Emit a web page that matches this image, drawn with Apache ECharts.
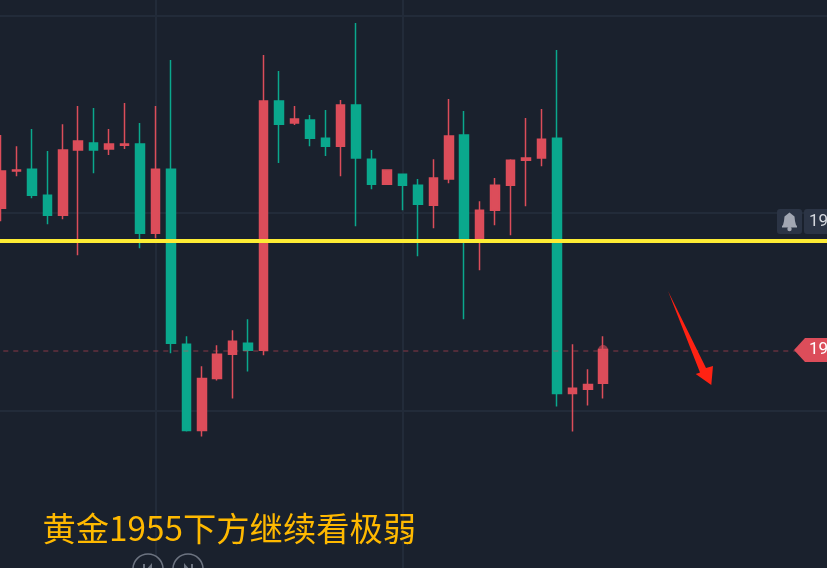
<!DOCTYPE html>
<html>
<head>
<meta charset="utf-8">
<style>
  html, body { margin: 0; padding: 0; background: #1a212d; }
  #chart { width: 827px; height: 568px; overflow: hidden; }
</style>
<script src="https://cdn.jsdelivr.net/npm/echarts@6/dist/echarts.min.js"></script>
</head>
<body>
<div id="chart"></div>
<script>
const slotCount = 54 // the axis keeps empty bars to the right of the last candle

const openValues = [1960.50, 1964.26, 1964.46, 1961.82, 1959.79, 1966.39, 1967.10, 1966.49, 1966.89, 1967.00,
  1957.97, 1964.46, 1946.71, 1937.99, 1943.26, 1945.70, 1946.81, 1946.10, 1971.36, 1969.13,
  1969.43, 1967.60, 1966.79, 1970.95, 1965.47, 1962.94, 1963.95, 1962.84, 1960.81, 1963.45,
  1967.91, 1957.16, 1960.30, 1962.84, 1965.37, 1965.58, 1967.60, 1941.74, 1942.15, 1942.76]
const closeValues = [1964.26, 1964.36, 1961.82, 1959.79, 1966.39, 1967.30, 1966.39, 1967.00, 1967.00, 1957.97,
  1964.46, 1946.81, 1937.99, 1943.26, 1945.70, 1947.02, 1946.10, 1971.36, 1969.02, 1969.53,
  1967.60, 1966.79, 1970.95, 1965.58, 1962.94, 1964.36, 1962.84, 1960.91, 1963.55, 1967.81,
  1957.16, 1960.30, 1962.84, 1965.37, 1965.58, 1967.50, 1941.74, 1942.25, 1942.65, 1946.20]
const lowValues = [1959.19, 1963.75, 1961.52, 1958.88, 1959.39, 1955.74, 1964.05, 1965.88, 1966.49, 1956.45,
  1957.46, 1945.80, 1937.89, 1937.38, 1943.06, 1941.23, 1943.97, 1945.60, 1965.07, 1968.92,
  1966.79, 1965.78, 1963.75, 1958.68, 1962.43, 1962.94, 1960.30, 1955.64, 1958.48, 1963.04,
  1949.25, 1954.22, 1958.78, 1957.77, 1960.71, 1964.76, 1940.42, 1937.89, 1940.52, 1941.23]
const highValues = [1967.91, 1966.79, 1968.52, 1966.29, 1969.02, 1970.85, 1970.65, 1968.52, 1971.15, 1969.13,
  1970.85, 1975.51, 1947.52, 1944.48, 1946.61, 1948.13, 1949.25, 1976.02, 1974.40, 1970.85,
  1969.94, 1970.44, 1971.46, 1979.27, 1966.39, 1964.36, 1963.95, 1963.45, 1965.47, 1971.56,
  1970.34, 1961.21, 1963.55, 1965.47, 1969.63, 1970.55, 1976.53, 1946.71, 1944.18, 1947.52]
const keyLevel = 1957.16
const lastPrice = 1946.10
const verticalLines = [10, 26]
const titleText = '黄金1955下方继续看极弱'
const tickLabel = '19'

const bgColor = '#1a212d'
const gridColor = '#222b39'
const upColor = '#dc4d5a'
const downColor = '#0aa88d'

const categories = []
for (let i = 0; i < slotCount; i++) {
  categories.push(String(i))
}
const candleData = openValues.map(function (open, i) {
  return [open, closeValues[i], lowValues[i], highValues[i]]
})

const chart = echarts.init(document.getElementById('chart'), null, { renderer: 'canvas' })

chart.setOption({
  backgroundColor: bgColor,
  animation: false,
  // grid runs past the window on purpose, the screenshot is a crop of a bigger chart
  grid: { left: -6.7, top: -4, width: 833.8, height: 612, outerBoundsMode: 'none' },
  xAxis: {
    type: 'category',
    data: categories,
    axisLine: { show: false },
    axisTick: { show: false },
    axisLabel: { show: false },
    splitLine: { show: false }
  },
  yAxis: {
    type: 'value',
    min: 1920,
    max: 1982,
    interval: 20,
    axisLine: { show: false },
    axisTick: { show: false },
    axisLabel: { show: false },
    splitLine: { show: true, lineStyle: { color: gridColor, width: 2 } }
  },
  series: [
    {
      // vertical grid first so the candles sit on top of it
      type: 'line',
      data: [],
      silent: true,
      z: 1,
      markLine: {
        z: 1,
        silent: true,
        symbol: 'none',
        label: { show: false },
        lineStyle: { color: gridColor, width: 2, type: 'solid' },
        data: verticalLines.map(function (i) {
          return { xAxis: i }
        })
      }
    },
    {
      type: 'candlestick',
      data: candleData,
      barWidth: 9,
      z: 3,
      itemStyle: {
        color: upColor,
        color0: downColor,
        borderColor: upColor,
        borderColor0: downColor,
        borderWidth: 1.5
      }
    },
    {
      type: 'line',
      data: [],
      silent: true,
      z: 4,
      markLine: {
        z: 4,
        silent: true,
        symbol: 'none',
        label: { show: false },
        lineStyle: { color: 'rgba(220,77,90,0.38)', width: 1.5, type: [5, 5] },
        data: [{ yAxis: lastPrice }]
      }
    },
    {
      type: 'line',
      data: [],
      silent: true,
      z: 5,
      markLine: {
        z: 5,
        silent: true,
        symbol: 'none',
        label: { show: false },
        lineStyle: { color: '#fdec34', width: 4, type: 'solid' },
        data: [{ yAxis: keyLevel }]
      }
    }
  ],
  graphic: [
    // glow on the live candle
    { type: 'circle', shape: { cx: 603, cy: 350, r: 5 }, style: { fill: upColor, opacity: 0.6 }, z: 2 },
    // alert bell + price box
    { type: 'rect', shape: { x: 777, y: 209, width: 25, height: 25, r: 3 }, style: { fill: '#2b3445' }, z: 20 },
    {
      type: 'polygon',
      shape: {
        points: [[789.5, 212.5], [792, 214.5], [794.5, 216.5], [795, 221], [796, 225], [797, 226], [797, 227.5],
          [782, 227.5], [782, 226], [783, 225], [784, 221], [784.5, 216.5], [787, 214.5]]
      },
      style: { fill: '#a2a7b3' },
      z: 21
    },
    { type: 'circle', shape: { cx: 789.5, cy: 229, r: 2.2 }, style: { fill: '#a2a7b3' }, z: 21 },
    { type: 'rect', shape: { x: 804, y: 209, width: 30, height: 25, r: 3 }, style: { fill: '#2b3445' }, z: 20 },
    { type: 'text', x: 809, y: 221.5, style: { text: tickLabel, fill: '#d5d8de', font: '17px Roboto, sans-serif', textVerticalAlign: 'middle' }, z: 21 },
    // last price tag
    {
      type: 'polygon',
      shape: { points: [[794, 350], [805, 338], [830, 338], [830, 362], [805, 362]] },
      style: { fill: upColor },
      z: 20
    },
    { type: 'text', x: 809, y: 350, style: { text: tickLabel, fill: '#ffffff', font: '17px Roboto, sans-serif', textVerticalAlign: 'middle' }, z: 21 },
    // hand drawn arrow
    {
      type: 'polygon',
      shape: { points: [[668, 291], [706, 368], [713, 366], [711.3, 385], [695.7, 374], [700, 372.5]] },
      style: { fill: '#ff2213' },
      z: 20
    },
    // title
    { type: 'text', x: 42.5, y: 528, style: { text: titleText, fill: '#ffb900', font: '33.3px "Noto Sans CJK SC", sans-serif', textVerticalAlign: 'middle' }, z: 20 },
    // replay buttons cut by the bottom edge
    { type: 'circle', shape: { cx: 148, cy: 569, r: 15 }, style: { fill: bgColor, stroke: '#6d7481', lineWidth: 1.5 }, z: 20 },
    { type: 'circle', shape: { cx: 188, cy: 569, r: 15 }, style: { fill: bgColor, stroke: '#6d7481', lineWidth: 1.5 }, z: 20 },
    { type: 'rect', shape: { x: 143, y: 564, width: 2, height: 6 }, style: { fill: '#6d7481' }, z: 21 },
    { type: 'polygon', shape: { points: [[152, 563], [152, 570], [146, 570]] }, style: { fill: '#6d7481' }, z: 21 },
    { type: 'rect', shape: { x: 191, y: 564, width: 2, height: 6 }, style: { fill: '#6d7481' }, z: 21 },
    { type: 'polygon', shape: { points: [[184, 563], [184, 570], [190, 570]] }, style: { fill: '#6d7481' }, z: 21 }
  ]
})
</script>
</body>
</html>
